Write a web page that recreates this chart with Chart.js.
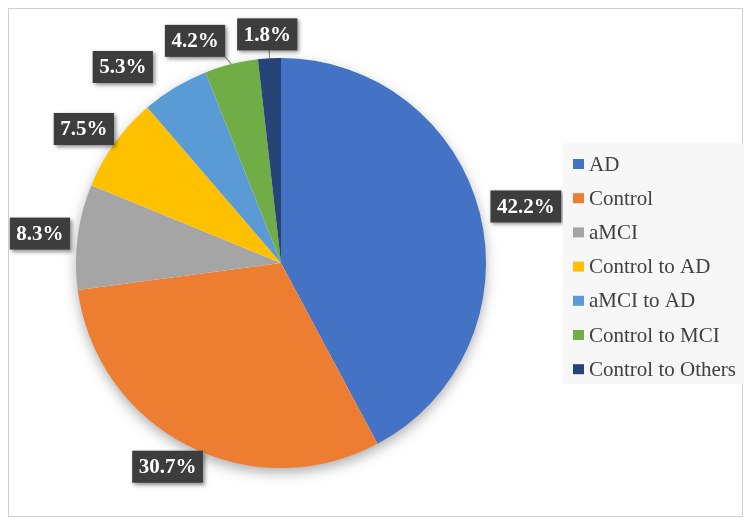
<!DOCTYPE html>
<html>
<head>
<meta charset="utf-8">
<script src="https://cdn.jsdelivr.net/npm/chart.js"></script>
<style>
    html, body { margin: 0; padding: 0; background: #fff; }
    canvas { display: block; }
</style>
</head>
<body>
<canvas id="chart" width="750" height="525"></canvas>
<script>
const groups = ['AD', 'Control', 'aMCI', 'Control to AD', 'aMCI to AD', 'Control to MCI', 'Control to Others'];
const shares = [42.2, 30.7, 8.3, 7.5, 5.3, 4.2, 1.8];
const sliceColors = ['#4472C4', '#ED7D31', '#A5A5A5', '#FFC000', '#5B9BD5', '#70AD47', '#264478'];

const serif = '"Liberation Serif", "Times New Roman", serif';

// white page + thin grey frame
const framePlugin = {
    id: 'frame',
    beforeDraw(chart) {
        const { ctx } = chart;
        ctx.save();
        ctx.fillStyle = '#fff';
        ctx.fillRect(0, 0, chart.width, chart.height);
        ctx.strokeStyle = '#d0d0d0';
        ctx.lineWidth = 1;
        ctx.strokeRect(8.5, 8.5, chart.width - 16, chart.height - 17);
        ctx.restore();
    },
};

// soft shadow under the whole pie
const pieShadow = {
    id: 'pieShadow',
    beforeDatasetsDraw(chart) {
        const arc = chart.getDatasetMeta(0).data[0];
        if (!arc) return;
        const { ctx } = chart;
        ctx.save();
        ctx.shadowColor = 'rgba(0,0,0,0.35)';
        ctx.shadowBlur = 14;
        ctx.shadowOffsetY = 5;
        ctx.fillStyle = '#fff';
        ctx.beginPath();
        ctx.arc(arc.x, arc.y, arc.outerRadius - 1, 0, Math.PI * 2);
        ctx.fill();
        ctx.restore();
    },
};

// dark boxed percentage labels outside the slices
const sliceLabels = {
    id: 'sliceLabels',
    afterDatasetsDraw(chart) {
        const { ctx } = chart;
        const meta = chart.getDatasetMeta(0);
        const placed = [];
        ctx.save();
        ctx.font = 'bold 21px ' + serif;
        for (let i = meta.data.length - 1; i >= 0; i--) {
            const arc = meta.data[i];
            const mid = (arc.startAngle + arc.endAngle) / 2;
            const c = Math.cos(mid);
            const s = Math.sin(mid);
            const text = shares[i].toFixed(1) + '%';
            const w = ctx.measureText(text).width + 13;
            const h = 32;
            const gap = c < 0 ? 8 : 12;
            const ax = arc.x + c * (arc.outerRadius + gap);
            const ay = arc.y + s * (arc.outerRadius + gap);
            let bx = ax + c * w / 2 - w / 2;
            const by = ay + s * h / 2 - h / 2;
            placed.forEach((p) => {
                const hit = bx < p.x + p.w + 6 && bx + w + 6 > p.x && by < p.y + p.h && by + h > p.y;
                if (hit) bx = c < 0 ? p.x - 12 - w : p.x + p.w + 12;
            });
            bx = Math.max(bx, 9);
            placed.push({
                x: bx, y: by, w, h, text, small: shares[i] < 5,
                ex: arc.x + c * arc.outerRadius, ey: arc.y + s * arc.outerRadius,
            });
        }
        placed.forEach((p) => {
            if (p.small) {
                const nx = Math.min(Math.max(p.ex, p.x), p.x + p.w);
                const ny = Math.min(Math.max(p.ey, p.y), p.y + p.h);
                ctx.strokeStyle = '#8c8c8c';
                ctx.lineWidth = 1.2;
                ctx.beginPath();
                ctx.moveTo(p.ex, p.ey);
                ctx.lineTo(nx, ny);
                ctx.stroke();
            }
            ctx.save();
            ctx.shadowColor = 'rgba(0,0,0,0.45)';
            ctx.shadowBlur = 4;
            ctx.shadowOffsetX = 2;
            ctx.shadowOffsetY = 2;
            ctx.fillStyle = '#3d3d3d';
            ctx.fillRect(p.x, p.y, p.w, p.h);
            ctx.restore();
            ctx.fillStyle = '#fff';
            ctx.textAlign = 'center';
            ctx.textBaseline = 'middle';
            ctx.fillText(p.text, p.x + p.w / 2, p.y + p.h / 2 + 1);
        });
        ctx.restore();
    },
};

// legend box on the right
const sideLegend = {
    id: 'sideLegend',
    afterDraw(chart) {
        const { ctx } = chart;
        const left = 563;
        const top = 143;
        const rowH = 34.2;
        ctx.save();
        ctx.fillStyle = '#f7f7f7';
        ctx.fillRect(left, top, 181, 241);
        ctx.font = '21px ' + serif;
        ctx.textBaseline = 'middle';
        groups.forEach((g, i) => {
            const cy = top + 21 + i * rowH;
            ctx.fillStyle = sliceColors[i];
            ctx.fillRect(left + 10, cy - 5, 11, 10);
            ctx.fillStyle = '#404040';
            ctx.fillText(g, left + 26, cy + 1);
        });
        ctx.restore();
    },
};

new Chart(document.getElementById('chart'), {
    type: 'pie',
    data: {
        labels: groups,
        datasets: [{
            data: shares,
            backgroundColor: sliceColors,
            borderWidth: 0,
        }],
    },
    options: {
        responsive: false,
        animation: false,
        layout: { padding: { left: 76, top: 58, right: 264, bottom: 57 } },
        plugins: {
            legend: { display: false },
            tooltip: { enabled: false },
        },
    },
    plugins: [framePlugin, pieShadow, sliceLabels, sideLegend],
});
</script>
</body>
</html>
